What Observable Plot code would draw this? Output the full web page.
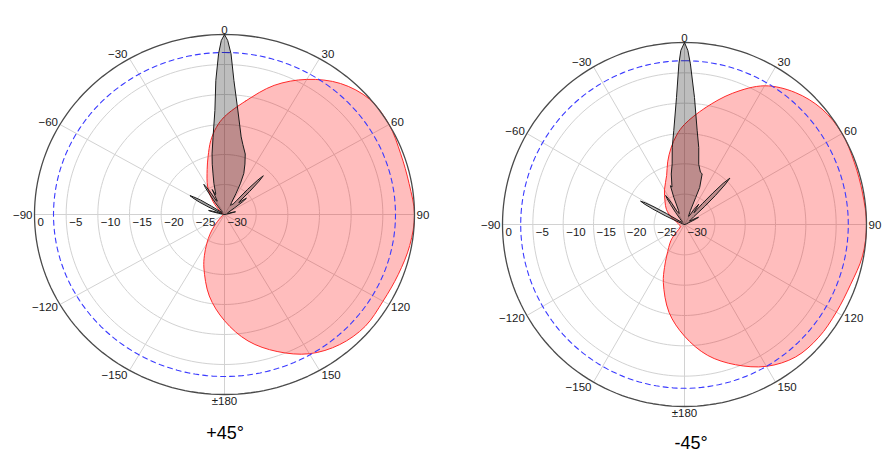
<!DOCTYPE html>
<html>
<head>
<meta charset="utf-8">
<script src="https://cdn.jsdelivr.net/npm/d3@7"></script>
<script src="https://cdn.jsdelivr.net/npm/@observablehq/plot@0.6"></script>
<style>
  html, body { margin: 0; padding: 0; background: #fff; }
  #wrap { position: relative; width: 893px; height: 454px; overflow: hidden; background: #fff; }
  .pane { position: absolute; top: 0; }
  .title { position: absolute; font-family: "Liberation Sans", Arial, sans-serif; font-size: 18px; line-height: 18px; color: #000; text-align: center; width: 100px; }
</style>
</head>
<body>
<div id="wrap">
  <div class="pane" id="left" style="left:0px"></div>
  <div class="pane" id="right" style="left:450px"></div>
  <div class="title" style="left:175px; top:424px">+45°</div>
  <div class="title" style="left:641px; top:434px">-45°</div>
</div>
<script>
// ---- tick definitions ----
const ringDb = [-25, -20, -15, -10, -5];
const radialTicks = [0, -5, -10, -15, -20, -25, -30];
const spokeAngles = [0, 30, 60, 90, 120, 150, 180, 210, 240, 270, 300, 330];
const angleTicks = [0, 30, 60, 90, 120, 150, 180, -150, -120, -90, -60, -30];
const angleTickText = ["0", "30", "60", "90", "120", "150", "±180", "−150", "−120", "−90", "−60", "−30"];
const refLevelDb = -3;

// ---- +45° chart: red pattern (angle deg, dB) ----
const redLAngles = [0,10,20,30,40,50,60,70,80,90,100,110,120,130,140,150,160,170,180,190,200,205,210,215,220,230,240,260,280,300,310,320,330,340,345,350,355];
const redLDb = [-13.7,-10.8,-7.1,-4.0,-1.5,-0.1,0,-0.4,-0.4,0,-0.3,-0.8,-1.1,-1.0,-1.7,-3.2,-5.7,-8.6,-12.3,-16.2,-20.5,-22.5,-24.4,-26.0,-27.5,-29.2,-29.7,-29.8,-29.8,-29.6,-29.0,-27.2,-24.7,-22.0,-20.0,-17.5,-15.4];

// ---- +45° chart: gray pattern ----
const grayLAngles = [-180,-90,-80,-78,-76.5,-75,-73.5,-72,-68,-64,-62.5,-61,-60,-59,-57.5,-56,-52,-42,-38,-36.5,-35,-34,-33,-32,-31,-29.5,-27,-25,-23.5,-22,-18,-15,-13,-11,-8,-5,-3.5,-2,-1,0,1,2.2,3.8,7,11.5,14,18,21,24,26,27.5,29,32,35,38,39.5,41,42.5,43.5,44.5,46,47.5,49,50.5,52,53.5,55,58,66,72,74,75.5,77,82,90,180];
const grayLDb = [-30,-30,-29.7,-29.0,-28.0,-27.4,-28.0,-29.0,-29.6,-27.5,-25.5,-24.3,-23.7,-24.3,-25.5,-27.5,-29.4,-29.5,-28.8,-27.5,-25.8,-24.6,-24.0,-24.6,-25.8,-27.4,-27.5,-25.4,-26.4,-26.3,-24.6,-23.0,-21.4,-19.7,-17.0,-12.6,-7.6,-3.2,-1.0,0,-1.0,-3.2,-7.6,-12.6,-16.8,-18.0,-19.4,-21.0,-22.5,-24.3,-26.1,-27.7,-28.2,-28.0,-27.8,-27.0,-24.5,-22.2,-21.1,-22.2,-24.5,-26.8,-27.0,-26.2,-25.6,-26.5,-28.0,-29.2,-29.5,-29.2,-28.5,-28.2,-29.0,-29.7,-30,-30];

// ---- -45° chart: red pattern ----
const redRAngles = [0,10,20,30,40,50,60,70,80,90,100,110,120,130,140,150,160,170,180,190,200,205,210,220,225,230,240,260,290,300,310,320,330,340,345,350,355];
const redRDb = [-13.5,-10.5,-7.0,-3.6,-1.6,-0.4,0,-0.2,-0.2,0,-0.2,-0.9,-1.1,-1.1,-1.5,-3.0,-5.4,-8.1,-11.6,-15.3,-19.8,-22.2,-24.2,-26.5,-27.8,-28.8,-29.2,-29.2,-28.5,-27.4,-26.1,-25.0,-23.4,-21.4,-19.3,-17.2,-15.2];

// ---- -45° chart: gray pattern ----
const grayRAngles = [-180,-90,-72,-67,-65.5,-64,-63,-62,-61,-60,-58.5,-57,-52,-42,-38,-36.5,-35,-34,-33,-32,-31,-29.5,-26,-23,-21.5,-20,-18.5,-14.7,-11.5,-9,-6.5,-3.6,-2,-1.2,0,1.1,2.1,4.5,7.7,10.5,13.3,17,19.2,22.3,22.5,23,26,30,32.5,35,37,39,40.5,42,43.2,44.4,45.5,46.8,48.2,50,55,59,61.5,63,64.5,67,75,90,180];
const grayRDb = [-30,-30,-29.7,-28.5,-26.5,-24.2,-22.7,-21.8,-22.7,-24.2,-26.5,-28.5,-29.4,-29.5,-28.8,-27.5,-26.0,-24.9,-24.3,-24.9,-26.0,-27.5,-28.0,-27.5,-25.2,-23.2,-23.5,-21.4,-19.8,-17.1,-14.4,-9.0,-3.5,-1.3,0,-1.3,-3.5,-9.0,-14.4,-17.1,-19.8,-21.0,-21.15,-23.4,-25.2,-27.5,-28.5,-28.2,-27.0,-25.9,-27.0,-27.5,-25.5,-23.0,-20.7,-19.3,-20.7,-23.0,-25.5,-28.0,-29.0,-28.5,-27.7,-27.4,-28.0,-29.2,-29.7,-30,-30];

// ---- helpers ----
function polar(angle, db) {
  const r = Math.max(0, db + 30);
  const t = angle * Math.PI / 180;
  return {x: r * Math.sin(t), y: r * Math.cos(t)};
}
function circle(db) {
  return d3.range(0, 361, 2).map(a => polar(a, db));
}
function fmt(v) { return v < 0 ? "−" + Math.abs(v) : String(v); }

function chart({redA, redD, grayA, grayD, width, height, ml, mr, mt, mb}) {
  const red = redA.map((a, i) => polar(a, redD[i]));
  const gray = grayA.map((a, i) => polar(a, grayD[i]));
  const rings = ringDb.flatMap(db => circle(db).map(p => ({...p, db})));
  const spokes = spokeAngles.map(a => polar(a, 0));
  const labels = angleTicks.map((a, i) => {
    const t = a * Math.PI / 180;
    return {x: 30 * Math.sin(t), y: 30.9 * Math.cos(t), text: angleTickText[i], s: Math.sin(t)};
  });
  const font = "Liberation Sans, Arial, sans-serif";
  const txt = {fontFamily: font, fontSize: 11.5, fill: "#1a1a1a"};
  return Plot.plot({
    width, height,
    marginLeft: ml, marginRight: mr, marginTop: mt, marginBottom: mb,
    x: {domain: [-30, 30], axis: null},
    y: {domain: [-30, 30], axis: null},
    style: {background: "transparent", fontFamily: font, overflow: "visible"},
    marks: [
      Plot.line(rings, {x: "x", y: "y", z: "db", stroke: "#d2d2d2", strokeWidth: 1}),
      Plot.link(spokes, {x1: () => 0, y1: () => 0, x2: "x", y2: "y", stroke: "#d2d2d2", strokeWidth: 1}),
      Plot.line(red, {x: "x", y: "y", curve: "catmull-rom-closed", fill: "#ff0000", fillOpacity: 0.26, stroke: "#ff2a2a", strokeWidth: 1}),
      Plot.line(circle(refLevelDb), {x: "x", y: "y", stroke: "#3a3aff", strokeWidth: 1.1, strokeDasharray: "5,4"}),
      Plot.line(circle(0), {x: "x", y: "y", stroke: "#4a4a4a", strokeWidth: 1.3}),
      Plot.line(gray, {x: "x", y: "y", curve: "linear-closed", fill: "#000000", fillOpacity: 0.26, stroke: "#1a1a1a", strokeWidth: 1}),
      Plot.text(radialTicks, {x: d => -(d + 30), y: () => 0, text: d => fmt(d), textAnchor: "start", dx: 3, dy: 8, ...txt}),
      Plot.text(labels.filter(d => d.s > 0.01), {x: "x", y: "y", text: "text", textAnchor: "start", dx: 2, dy: 0.5, ...txt}),
      Plot.text(labels.filter(d => d.s < -0.01), {x: "x", y: "y", text: "text", textAnchor: "end", dx: -2, dy: 0.5, ...txt}),
      Plot.text(labels.filter(d => Math.abs(d.s) <= 0.01), {x: "x", y: "y", text: "text", textAnchor: "middle", dy: 1, ...txt})
    ]
  });
}

document.getElementById("left").appendChild(chart({
  redA: redLAngles, redD: redLDb, grayA: grayLAngles, grayD: grayLDb,
  width: 450, height: 454, ml: 34, mr: 36, mt: 34, mb: 60
}));
document.getElementById("right").appendChild(chart({
  redA: redRAngles, redD: redRDb, grayA: grayRAngles, grayD: grayRDb,
  width: 443, height: 454, ml: 52, mr: 27, mt: 42, mb: 48
}));
</script>
</body>
</html>
